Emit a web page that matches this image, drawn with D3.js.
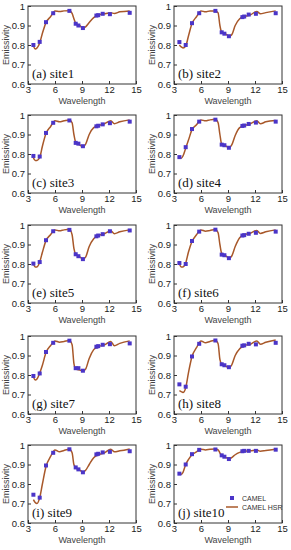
<!DOCTYPE html>
<html>
<head>
    <meta charset="utf-8">
    <script src="https://d3js.org/d3.v7.min.js"></script>
    <style>
        html, body { margin: 0; padding: 0; background: #fff; }
        svg { display: block; }
        .axis path, .axis line { stroke: #333; }
        .axis text { font-family: "Liberation Sans", Arial, sans-serif; font-size: 9.5px; fill: #222; }
        .lbl { font-family: "Liberation Sans", Arial, sans-serif; font-size: 9px; fill: #444; }
        .site { font-family: "Liberation Serif", "DejaVu Serif", serif; font-size: 13px; fill: #111; }
        .leg { font-family: "Liberation Sans", Arial, sans-serif; font-size: 7px; fill: #333; }
    </style>
</head>
<body>
<div id="chart"></div>
<script>
    // CAMEL hinge points (um)
    var camelWl = [3.6, 4.3, 5.0, 5.8, 7.6, 8.3, 8.6, 9.1, 10.6, 10.8, 11.3, 12.1, 14.3];
    // CAMEL HSR sample wavelengths (um)
    var hsrWl = [3.6, 3.8, 4.0, 4.3, 4.6, 5.0, 5.5, 6.0, 6.5, 7.0, 7.6, 7.9, 8.1, 8.3, 8.8, 9.1, 9.4, 9.8, 10.3, 10.8, 11.5, 12.2, 12.6, 13.2, 14.3];

    var siteNames = ["(a) site1", "(b) site2", "(c) site3", "(d) site4", "(e) site5",
        "(f) site6", "(g) site7", "(h) site8", "(i) site9", "(j) site10"];

    var camel1 = [0.800, 0.816, 0.917, 0.963, 0.975, 0.909, 0.900, 0.887, 0.951, 0.953, 0.960, 0.958, 0.965];
    var camel2 = [0.815, 0.800, 0.912, 0.963, 0.975, 0.865, 0.858, 0.845, 0.943, 0.946, 0.956, 0.960, 0.963];
    var camel3 = [0.790, 0.787, 0.908, 0.960, 0.972, 0.857, 0.853, 0.840, 0.942, 0.945, 0.952, 0.958, 0.966];
    var camel4 = [0.784, 0.835, 0.928, 0.966, 0.976, 0.848, 0.845, 0.832, 0.944, 0.946, 0.954, 0.961, 0.966];
    var camel5 = [0.802, 0.810, 0.922, 0.968, 0.975, 0.850, 0.840, 0.825, 0.942, 0.946, 0.953, 0.968, 0.972];
    var camel6 = [0.805, 0.800, 0.918, 0.966, 0.976, 0.848, 0.845, 0.830, 0.946, 0.948, 0.955, 0.960, 0.966];
    var camel7 = [0.795, 0.808, 0.918, 0.965, 0.976, 0.835, 0.835, 0.822, 0.945, 0.948, 0.955, 0.958, 0.962];
    var camel8 = [0.752, 0.740, 0.895, 0.960, 0.977, 0.855, 0.850, 0.840, 0.950, 0.952, 0.960, 0.957, 0.965];
    var camel9 = [0.745, 0.730, 0.895, 0.960, 0.978, 0.885, 0.875, 0.860, 0.952, 0.955, 0.962, 0.965, 0.968];
    var camel10 = [0.853, 0.900, 0.953, 0.975, 0.977, 0.947, 0.940, 0.928, 0.968, 0.970, 0.970, 0.970, 0.976];

    var hsr1 = [0.795, 0.780, 0.785, 0.810, 0.860, 0.915, 0.945, 0.975, 0.972, 0.975, 0.976, 0.962, 0.935, 0.912, 0.898, 0.885, 0.893, 0.915, 0.940, 0.953, 0.960, 0.965, 0.962, 0.970, 0.975];
    var hsr2 = [0.800, 0.790, 0.785, 0.795, 0.845, 0.910, 0.945, 0.975, 0.970, 0.975, 0.975, 0.965, 0.900, 0.865, 0.855, 0.845, 0.852, 0.900, 0.935, 0.946, 0.955, 0.972, 0.960, 0.966, 0.975];
    var hsr3 = [0.780, 0.767, 0.767, 0.782, 0.840, 0.905, 0.940, 0.970, 0.965, 0.970, 0.975, 0.960, 0.900, 0.860, 0.845, 0.835, 0.850, 0.900, 0.935, 0.945, 0.955, 0.970, 0.955, 0.965, 0.975];
    var hsr4 = [0.780, 0.778, 0.790, 0.830, 0.870, 0.925, 0.950, 0.975, 0.970, 0.975, 0.978, 0.960, 0.900, 0.850, 0.840, 0.830, 0.845, 0.895, 0.935, 0.945, 0.955, 0.970, 0.955, 0.965, 0.972];
    var hsr5 = [0.800, 0.785, 0.785, 0.810, 0.860, 0.920, 0.950, 0.975, 0.970, 0.975, 0.978, 0.950, 0.880, 0.850, 0.835, 0.825, 0.835, 0.890, 0.930, 0.945, 0.955, 0.970, 0.955, 0.965, 0.975];
    var hsr6 = [0.800, 0.785, 0.785, 0.805, 0.860, 0.915, 0.950, 0.975, 0.968, 0.972, 0.977, 0.960, 0.900, 0.855, 0.840, 0.830, 0.840, 0.890, 0.935, 0.950, 0.958, 0.972, 0.957, 0.965, 0.975];
    var hsr7 = [0.790, 0.775, 0.780, 0.810, 0.850, 0.915, 0.950, 0.975, 0.968, 0.972, 0.977, 0.955, 0.860, 0.830, 0.825, 0.820, 0.830, 0.885, 0.930, 0.945, 0.955, 0.972, 0.950, 0.962, 0.975];
    var hsr8 = [0.720, 0.715, 0.710, 0.735, 0.810, 0.895, 0.940, 0.975, 0.965, 0.972, 0.978, 0.960, 0.880, 0.855, 0.845, 0.835, 0.850, 0.900, 0.935, 0.950, 0.958, 0.975, 0.958, 0.968, 0.980];
    var hsr9 = [0.720, 0.705, 0.700, 0.730, 0.800, 0.890, 0.940, 0.975, 0.965, 0.972, 0.978, 0.960, 0.900, 0.885, 0.870, 0.860, 0.870, 0.900, 0.935, 0.950, 0.960, 0.978, 0.965, 0.970, 0.980];
    var hsr10 = [0.850, 0.850, 0.860, 0.900, 0.925, 0.950, 0.965, 0.978, 0.975, 0.978, 0.980, 0.975, 0.960, 0.945, 0.935, 0.928, 0.935, 0.950, 0.962, 0.968, 0.970, 0.975, 0.968, 0.972, 0.978];

    var camelSeries = [camel1, camel2, camel3, camel4, camel5, camel6, camel7, camel8, camel9, camel10];
    var hsrSeries = [hsr1, hsr2, hsr3, hsr4, hsr5, hsr6, hsr7, hsr8, hsr9, hsr10];

    var xTicks = [3, 6, 9, 12, 15];
    var yTicks = [0.6, 0.7, 0.8, 0.9, 1];

    var width = 291, height = 550;
    var colLeft = [28, 174], plotW = 108, plotH = 78;
    var rowTop = [6, 115, 225, 336, 445];

    var lineColor = "#a8582a", dotColor = "#4b35c8";

    var svg = d3.select("#chart").append("svg")
        .attr("width", width).attr("height", height);

    var x = d3.scaleLinear().domain([3, 15]).range([0, plotW]);
    var y = d3.scaleLinear().domain([0.6, 1]).range([plotH, 0]);

    var line = d3.line()
        .x(function (d) { return x(d[0]); })
        .y(function (d) { return y(d[1]); })
        .curve(d3.curveMonotoneX);

    siteNames.forEach(function (name, i) {
        var g = svg.append("g")
            .attr("transform", "translate(" + colLeft[i % 2] + "," + rowTop[Math.floor(i / 2)] + ")");

        // box
        g.append("rect").attr("width", plotW).attr("height", plotH)
            .attr("fill", "none").attr("stroke", "#333");

        g.append("g").attr("class", "axis")
            .attr("transform", "translate(0," + plotH + ")")
            .call(d3.axisBottom(x).tickValues(xTicks).tickSize(-3).tickPadding(2).tickFormat(d3.format("d")))
            .call(function (a) { a.select(".domain").remove(); });

        g.append("g").attr("class", "axis")
            .call(d3.axisLeft(y).tickValues(yTicks).tickSize(-3).tickPadding(3)
                .tickFormat(function (d) { return d === 1 ? "1" : d3.format(".1f")(d); }))
            .call(function (a) { a.select(".domain").remove(); });

        g.append("text").attr("class", "lbl")
            .attr("x", plotW / 2).attr("y", plotH + 20)
            .attr("text-anchor", "middle").text("Wavelength");

        g.append("text").attr("class", "lbl")
            .attr("transform", "translate(-19," + plotH / 2 + ") rotate(-90)")
            .attr("text-anchor", "middle").text("Emissivity");

        var hsrData = hsrWl.map(function (w, k) { return [w, hsrSeries[i][k]]; });
        g.append("path").datum(hsrData)
            .attr("d", line)
            .attr("fill", "none").attr("stroke", lineColor).attr("stroke-width", 1.5);

        g.selectAll("rect.pt")
            .data(camelWl.map(function (w, k) { return [w, camelSeries[i][k]]; }))
            .enter().append("rect").attr("class", "pt")
            .attr("x", function (d) { return x(d[0]) - 2; })
            .attr("y", function (d) { return y(d[1]) - 2; })
            .attr("width", 4).attr("height", 4)
            .attr("fill", dotColor);

        g.append("text").attr("class", "site")
            .attr("x", 4).attr("y", plotH - 6).text(name);

        if (i === 9) {
            var lg = g.append("g").attr("transform", "translate(58,53)");
            lg.append("rect").attr("x", -2).attr("y", -2).attr("width", 4).attr("height", 4).attr("fill", dotColor);
            lg.append("text").attr("class", "leg").attr("x", 10).attr("y", 2.5).text("CAMEL");
            lg.append("line").attr("x1", -6).attr("x2", 6).attr("y1", 9).attr("y2", 9)
                .attr("stroke", lineColor).attr("stroke-width", 1.5);
            lg.append("text").attr("class", "leg").attr("x", 10).attr("y", 11.5).text("CAMEL HSR");
        }
    });
</script>
</body>
</html>
